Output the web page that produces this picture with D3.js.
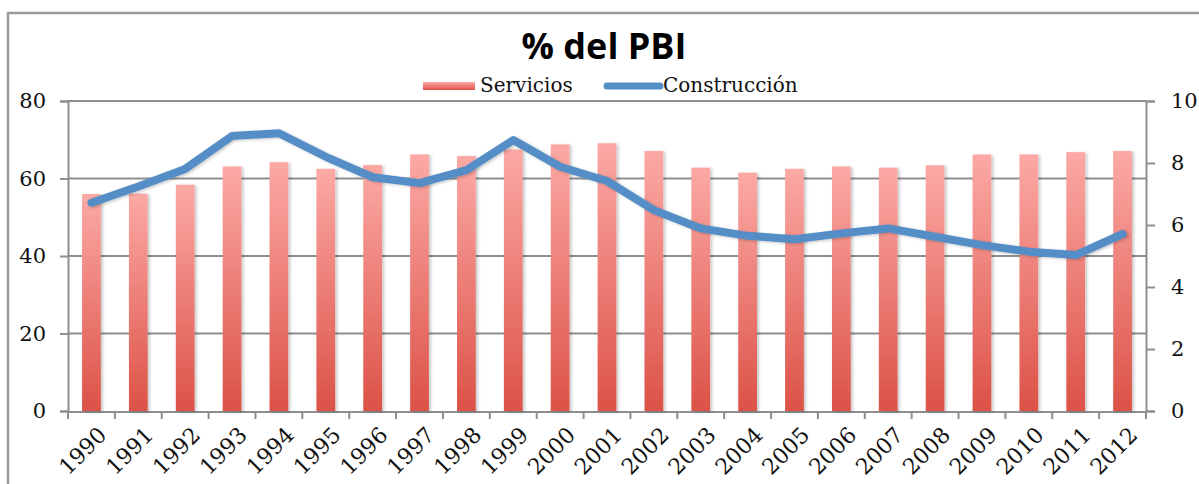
<!DOCTYPE html>
<html>
<head>
<meta charset="utf-8">
<script src="https://cdn.jsdelivr.net/npm/d3@7"></script>
<style>
  html, body { margin: 0; padding: 0; background: #fff; }
  svg { display: block; }
</style>
</head>
<body>
<svg id="chart" width="1199" height="484"></svg>
<script>
// Años del eje horizontal
const years = ["1990","1991","1992","1993","1994","1995","1996","1997","1998","1999","2000","2001",
               "2002","2003","2004","2005","2006","2007","2008","2009","2010","2011","2012"];
// Servicios, % del PBI (eje izquierdo)
const servicios = [56.0, 56.1, 58.4, 63.1, 64.2, 62.5, 63.5, 66.2, 65.8, 67.5, 68.8, 69.1,
                   67.1, 62.8, 61.5, 62.5, 63.1, 62.8, 63.4, 66.2, 66.2, 66.8, 67.1];
// Construcción, % del PBI (eje derecho)
const construccion = [6.72, 7.24, 7.81, 8.87, 8.96, 8.20, 7.54, 7.35, 7.77, 8.74, 7.88, 7.42,
                      6.48, 5.89, 5.65, 5.54, 5.73, 5.89, 5.62, 5.35, 5.14, 5.03, 5.71];
const leftTicks = [0, 20, 40, 60, 80];
const rightTicks = [0, 2, 4, 6, 8, 10];
const title = "% del PBI";
const seriesNames = ["Servicios", "Construcción"];

const svg = d3.select("#chart");
const plot = { left: 68, right: 1146, top: 101, bottom: 411 };
const gray = "#8e8e8e";
const serif = "'DejaVu Serif', serif";

const x = d3.scaleBand().domain(years).range([plot.left, plot.right]).paddingInner(0.6).paddingOuter(0.3);
const xBand = d3.scaleBand().domain(years).range([plot.left, plot.right]);
const yL = d3.scaleLinear().domain([0, 80]).range([plot.bottom, plot.top]);
const yR = d3.scaleLinear().domain([0, 10]).range([plot.bottom, plot.top]);

const defs = svg.append("defs");
const grad = defs.append("linearGradient").attr("id", "barGrad")
  .attr("x1", 0).attr("y1", 0).attr("x2", 0).attr("y2", 1);
grad.append("stop").attr("offset", "0%").attr("stop-color", "#fca9a5");
grad.append("stop").attr("offset", "100%").attr("stop-color", "#dc5247");

const shadow = defs.append("filter").attr("id", "shadow")
  .attr("x", "-30%").attr("y", "-10%").attr("width", "160%").attr("height", "130%");
shadow.append("feDropShadow").attr("dx", 2).attr("dy", 1).attr("stdDeviation", 1.5)
  .attr("flood-color", "#000").attr("flood-opacity", 0.22);

// Marco exterior
svg.append("path")
  .attr("d", "M8,484 L8,13 L1199,13")
  .attr("fill", "none").attr("stroke", "#9a9a9a").attr("stroke-width", 2.5);

// Líneas de cuadrícula
svg.append("g").selectAll("line").data(leftTicks.filter(d => d > 0)).join("line")
  .attr("x1", plot.left).attr("x2", plot.right)
  .attr("y1", d => yL(d)).attr("y2", d => yL(d))
  .attr("stroke", gray).attr("stroke-width", 2);

// Eje izquierdo
const axL = svg.append("g").attr("transform", `translate(${plot.left},0)`)
  .call(d3.axisLeft(yL).tickValues(leftTicks).tickSize(8).tickPadding(14));
axL.selectAll("path, line").attr("stroke", gray).attr("stroke-width", 2);
axL.selectAll("text").attr("font-family", serif).attr("font-size", 21).attr("fill", "#111");

// Eje derecho
const axR = svg.append("g").attr("transform", `translate(${plot.right},0)`)
  .call(d3.axisRight(yR).tickValues(rightTicks).tickSize(9).tickPadding(16));
axR.selectAll("path, line").attr("stroke", gray).attr("stroke-width", 2);
axR.selectAll("text").attr("font-family", serif).attr("font-size", 21).attr("fill", "#111");

// Eje inferior con marcas entre categorías
const bottomTicks = years.map(y => xBand(y)).concat([plot.right]);
svg.append("line").attr("x1", plot.left).attr("x2", plot.right)
  .attr("y1", plot.bottom + 1).attr("y2", plot.bottom + 1)
  .attr("stroke", gray).attr("stroke-width", 2);
svg.append("g").selectAll("line").data(bottomTicks).join("line")
  .attr("x1", d => d).attr("x2", d => d)
  .attr("y1", plot.bottom + 1).attr("y2", plot.bottom + 8)
  .attr("stroke", gray).attr("stroke-width", 2);

svg.append("g").selectAll("text").data(years).join("text")
  .attr("transform", d => `translate(${xBand(d) + xBand.bandwidth() / 2 + 11},${plot.bottom + 20}) rotate(-45)`)
  .attr("text-anchor", "end").attr("dy", "0.35em")
  .attr("font-family", serif).attr("font-size", 22).attr("fill", "#111")
  .text(d => d);

// Barras: Servicios
svg.append("g").selectAll("rect").data(years).join("rect")
  .attr("x", d => x(d)).attr("width", x.bandwidth())
  .attr("y", (d, i) => yL(servicios[i]))
  .attr("height", (d, i) => plot.bottom - yL(servicios[i]))
  .attr("fill", "url(#barGrad)")
  .attr("filter", "url(#shadow)");

// Línea: Construcción
const line = d3.line()
  .x((d, i) => xBand(years[i]) + xBand.bandwidth() / 2)
  .y(d => yR(d));
svg.append("path").datum(construccion)
  .attr("d", line)
  .attr("fill", "none").attr("stroke", "#548ec6").attr("stroke-width", 8)
  .attr("stroke-linejoin", "round").attr("stroke-linecap", "round")
  .attr("filter", "url(#shadow)");

// Título
svg.append("text").attr("x", 604).attr("y", 59).attr("text-anchor", "middle")
  .attr("font-family", "'Open Sans', sans-serif").attr("font-weight", 700).attr("font-size", 36)
  .attr("fill", "#000").text(title);

// Leyenda
const leg = svg.append("g");
leg.append("rect").attr("x", 423).attr("y", 82).attr("width", 52).attr("height", 8)
  .attr("fill", "url(#barGrad)");
leg.append("text").attr("x", 480).attr("y", 92)
  .attr("font-family", serif).attr("font-size", 20).attr("fill", "#111").text(seriesNames[0]);
leg.append("line").attr("x1", 607).attr("x2", 660).attr("y1", 86).attr("y2", 86)
  .attr("stroke", "#548ec6").attr("stroke-width", 7).attr("stroke-linecap", "round");
leg.append("text").attr("x", 663).attr("y", 92)
  .attr("font-family", serif).attr("font-size", 20).attr("fill", "#111").text(seriesNames[1]);
</script>
</body>
</html>
